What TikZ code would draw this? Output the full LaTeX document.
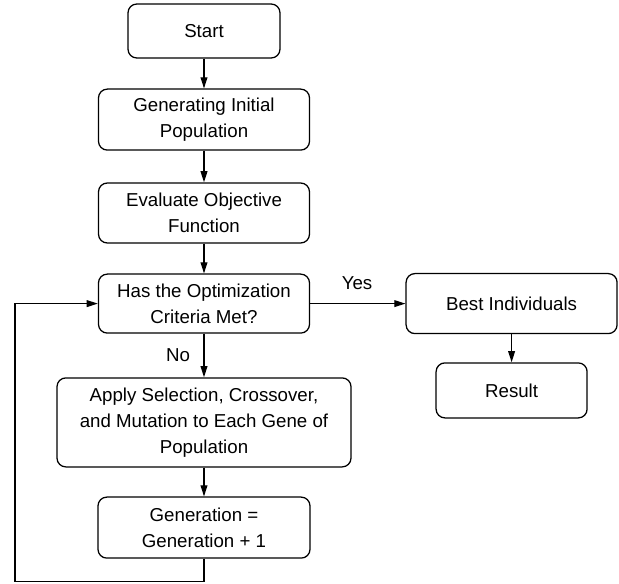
\documentclass[tikz,border=0pt]{standalone}
\usepackage{fontspec}
\setmainfont{Liberation Sans}
\usetikzlibrary{arrows.meta}
\begin{document}
\begin{tikzpicture}[line width=0.9pt, >={Triangle[length=2.8mm,width=1.7mm]},
    box/.style={draw, rounded corners=0.22cm, align=center, inner sep=0pt,
        font=\fontsize{13.3}{18.5}\selectfont}]
    \useasboundingbox (0,0) rectangle (15.475,-14.575);
    \node[box, minimum width=3.8cm, minimum height=1.35cm] (start) at (5.1,-0.775) {Start};
    \node[box, minimum width=5.275cm, minimum height=1.525cm] (init) at (5.1,-2.99) {Generating Initial\\Population};
    \node[box, minimum width=5.275cm, minimum height=1.5cm] (eval) at (5.1,-5.325) {Evaluate Objective\\Function};
    \node[box, minimum width=5.275cm, minimum height=1.475cm] (check) at (5.1,-7.59) {Has the Optimization\\Criteria Met?};
    \node[box, minimum width=7.35cm, minimum height=2.225cm] (apply) at (5.1,-10.56) {Apply Selection, Crossover,\\and Mutation to Each Gene of\\Population};
    \node[box, minimum width=5.3cm, minimum height=1.525cm] (gen) at (5.1,-13.19) {Generation =\\Generation + 1};
    % rechte Seite
    \node[box, minimum width=5.275cm, minimum height=1.5cm] (best) at (12.79,-7.59) {Best Individuals};
    \node[box, minimum width=3.775cm, minimum height=1.375cm] (result) at (12.79,-9.76) {Result};
    \draw[->] (start) -- (init);
    \draw[->] (init) -- (eval);
    \draw[->] (eval) -- (check);
    \draw[->] (check) -- (apply);
    \draw[->] (apply) -- (gen);
    \draw[->] (check) -- (best);
    \draw[->] (best) -- (result);
    \node[font=\fontsize{13.3}{15}\selectfont] (yes) at (8.925,-7.075) {Yes};
    \node[font=\fontsize{13.3}{15}\selectfont] (no) at (4.45,-8.875) {No};
    % Rueckfuehrung
    \draw[->] (gen.south) -- ++(0,-0.56) -| (0.375,-7.59) -- (check.west);
\end{tikzpicture}
\end{document}
